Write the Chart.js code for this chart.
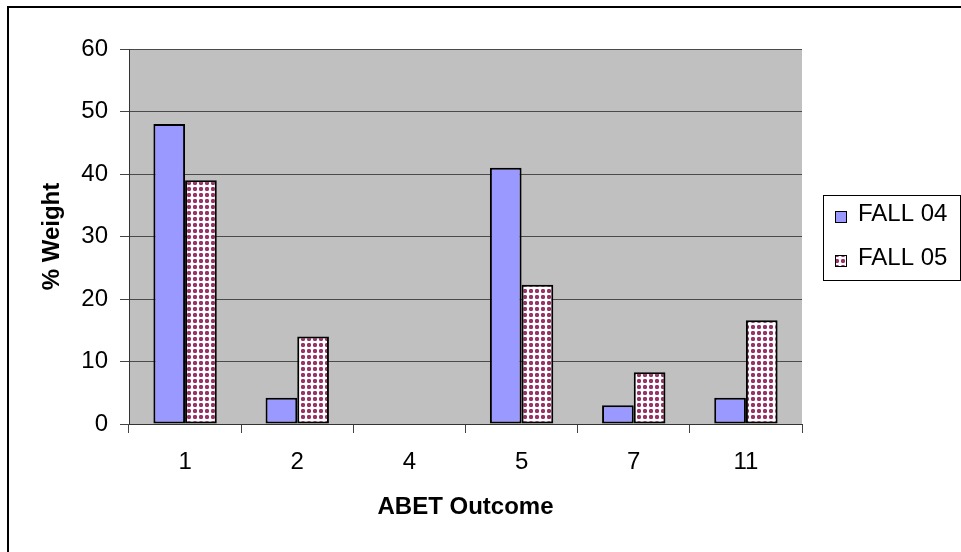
<!DOCTYPE html>
<html>
<head>
<meta charset="utf-8">
<script src="https://cdn.jsdelivr.net/npm/chart.js@4/dist/chart.umd.min.js"></script>
<style>
  html, body { margin: 0; padding: 0; background: #fff; }
  #wrap { width: 961px; height: 552px; position: relative; }
</style>
</head>
<body>
<div id="wrap"><canvas id="abetChart"></canvas></div>
<script>
const outcomes = ['1', '2', '4', '5', '7', '11'];
const fall04 = [48, 4.2, 0, 41, 3, 4.2];
const fall05 = [39, 14, 0, 22.3, 8.3, 16.6];
const seriesNames = ['FALL 04', 'FALL 05'];
const yTicks = [0, 10, 20, 30, 40, 50, 60];

// dotted fill like the old Excel pattern
function dotPattern() {
  const c = document.createElement('canvas');
  c.width = 6; c.height = 6;
  const g = c.getContext('2d');
  g.fillStyle = '#ffffff';
  g.fillRect(0, 0, 6, 6);
  g.fillStyle = '#c98aab';
  g.fillRect(1, 1, 4, 4);
  g.fillStyle = '#993366';
  g.fillRect(2, 1, 2, 4);
  g.fillRect(1, 2, 4, 2);
  return g.createPattern(c, 'repeat');
}

const FONT = 'Liberation Sans, Arial, sans-serif';
const dots = dotPattern();
const fills = ['#9999ff', dots];

const framePlugin = {
  id: 'frame',
  beforeDraw(chart) {
    const { ctx, chartArea: a } = chart;
    ctx.save();
    ctx.fillStyle = '#c0c0c0';
    ctx.fillRect(a.left, a.top, a.right - a.left, a.bottom - a.top);
    ctx.restore();
  },
  afterDraw(chart) {
    const ctx = chart.ctx;
    ctx.save();
    ctx.strokeStyle = '#000';
    ctx.lineWidth = 2;
    ctx.strokeRect(8, 7, 1000, 600);
    // legend
    ctx.lineWidth = 1;
    ctx.strokeRect(823.5, 195.5, 137, 85);
    const rows = [214, 258];
    chart.data.datasets.forEach((ds, i) => {
      const y = rows[i];
      ctx.fillStyle = fills[i];
      ctx.fillRect(835, y - 3, 12, 12);
      ctx.strokeStyle = '#000';
      ctx.strokeRect(835.5, y - 2.5, 11, 11);
      ctx.fillStyle = '#000';
      ctx.font = '24px ' + FONT;
      ctx.textBaseline = 'middle';
      ctx.textAlign = 'left';
      ctx.fillText(ds.label, 858, y);
    });
    ctx.restore();
  }
};

new Chart(document.getElementById('abetChart'), {
  type: 'bar',
  data: {
    labels: outcomes,
    datasets: [
      {
        label: seriesNames[0],
        data: fall04,
        backgroundColor: fills[0],
        borderColor: '#000',
        borderWidth: 2,
        borderSkipped: false
      },
      {
        label: seriesNames[1],
        data: fall05,
        backgroundColor: fills[1],
        borderColor: '#000',
        borderWidth: 2,
        borderSkipped: false
      }
    ]
  },
  options: {
    responsive: true,
    maintainAspectRatio: false,
    animation: false,
    categoryPercentage: 0.565,
    barPercentage: 1,
    layout: { padding: { top: 49, right: 159, left: 0, bottom: 0 } },
    scales: {
      x: {
        grid: {
          offset: true,
          drawOnChartArea: false,
          tickLength: 9,
          tickColor: '#444'
        },
        border: { color: '#333', width: 1 },
        ticks: { color: '#000', font: { family: FONT, size: 24 }, padding: 15 },
        title: {
          display: true,
          text: 'ABET Outcome',
          color: '#000',
          font: { family: FONT, size: 24, weight: 'bold' },
          padding: { top: 0, bottom: 30 }
        },
        afterFit(scale) { scale.height = 128; }
      },
      y: {
        min: 0,
        max: 60,
        afterBuildTicks(scale) { scale.ticks = yTicks.map(v => ({ value: v })); },
        grid: {
          color: '#4a4a4a',
          tickLength: 9,
          tickColor: '#444'
        },
        border: { color: '#333', width: 1 },
        ticks: { color: '#000', font: { family: FONT, size: 24 }, padding: 12 },
        title: {
          display: true,
          text: '% Weight',
          color: '#000',
          font: { family: FONT, size: 24, weight: 'bold' },
          padding: { top: 38, bottom: 0 }
        },
        afterFit(scale) { scale.width = 129; }
      }
    },
    plugins: {
      legend: { display: false },
      tooltip: { enabled: false }
    }
  },
  plugins: [framePlugin]
});
</script>
</body>
</html>
